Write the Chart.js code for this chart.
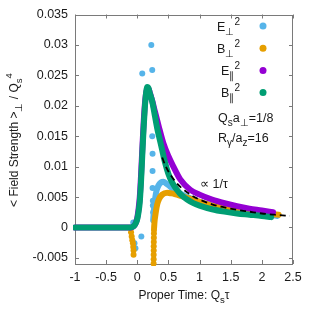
<!DOCTYPE html>
<html><head><meta charset="utf-8">
<script src="https://cdn.jsdelivr.net/npm/chart.js@4/dist/chart.umd.min.js"></script>
<style>html,body{margin:0;padding:0;background:#fff}#w{width:316px;height:316px;position:relative}</style>
</head><body><div id="w"><canvas id="c"></canvas></div>
<script>
// ---- tick definitions ----
const xTicks = [-1, -0.5, 0, 0.5, 1, 1.5, 2, 2.5];
const xTickLabels = ['-1', '-0.5', '0', '0.5', '1', '1.5', '2', '2.5'];
const yTicks = [-0.005, 0, 0.005, 0.01, 0.015, 0.02, 0.025, 0.03, 0.035];
const yTickLabels = ['-0.005', '0', '0.005', '0.01', '0.015', '0.02', '0.025', '0.03', '0.035'];

// ---- B_parallel^2 (green) ----
const tauBpar = [-1, -0.6, -0.2, -0.12, -0.08, -0.05, -0.02, 0.0, 0.02, 0.04, 0.06, 0.08, 0.10, 0.12, 0.14, 0.16, 0.18, 0.20, 0.24, 0.28, 0.32, 0.36, 0.40, 0.45, 0.50, 0.55, 0.60, 0.65, 0.70, 0.80, 0.90, 1.0, 1.2, 1.4, 1.6, 1.8, 2.0, 2.15];
const Bpar = [0, 0, 0, 0, 0.0001, 0.0003, 0.0008, 0.0014, 0.0025, 0.0042, 0.0075, 0.0118, 0.0160, 0.0195, 0.0220, 0.0231, 0.0229, 0.0221, 0.0207, 0.0185, 0.0163, 0.0145, 0.0127, 0.0105, 0.0088, 0.0076, 0.0067, 0.0060, 0.0054, 0.0046, 0.0040, 0.0036, 0.0030, 0.0026, 0.0023, 0.0021, 0.0019, 0.0017];

// ---- E_parallel^2 (purple) ----
const tauEpar = [-1, -0.2, -0.1, -0.06, -0.03, 0.0, 0.02, 0.04, 0.06, 0.08, 0.10, 0.12, 0.14, 0.16, 0.18, 0.20, 0.24, 0.28, 0.32, 0.36, 0.42, 0.50, 0.58, 0.69, 0.85, 1.0, 1.2, 1.4, 1.6, 1.8, 2.0, 2.18];
const Epar = [0, 0, 0, 0.0002, 0.0006, 0.0016, 0.0030, 0.0050, 0.0085, 0.0128, 0.0168, 0.0200, 0.0220, 0.0228, 0.0228, 0.0222, 0.0208, 0.0192, 0.0176, 0.0160, 0.0138, 0.0117, 0.0100, 0.0079, 0.0062, 0.0054, 0.0046, 0.0040, 0.0035, 0.0031, 0.0028, 0.0025];

// ---- E_perp^2 (blue): scattered early points and late curve ----
const tauEperpS = [-0.065, -0.045, -0.03, 0.065, 0.08, 0.225, 0.24, 0.24, 0.245, 0.245, 0.245, 0.25, 0.25, 0.255];
const EperpS = [0.0008, -0.0026, -0.0034, -0.0015, 0.0253, 0.0300, 0.0259, 0.0150, 0.0121, 0.0093, 0.0065, 0.0044, 0.0036, 0.0025];
const tauEperp = [0.255, 0.27, 0.29, 0.31, 0.34, 0.38, 0.42, 0.47, 0.52, 0.6, 0.7, 0.85, 1.0, 1.2, 1.4, 1.6, 1.8, 2.0, 2.25];
const Eperp = [0.0012, 0.0032, 0.0050, 0.0061, 0.0069, 0.0074, 0.0075, 0.0072, 0.0068, 0.0061, 0.0055, 0.0048, 0.0042, 0.0036, 0.0031, 0.0028, 0.0025, 0.0022, 0.0019];

// ---- B_perp^2 (orange): early dip points, steep column points and late curve ----
const tauBperpS = [-0.10, -0.09, -0.08, -0.07, -0.065, -0.06, -0.06];
const BperpS = [-0.0008, -0.0015, -0.0021, -0.0026, -0.0032, -0.0038, -0.0045];
const tauBperpC = [0.262, 0.262, 0.263, 0.263, 0.264, 0.264, 0.265, 0.266, 0.267, 0.268];
const BperpC = [-0.0066, -0.0059, -0.0052, -0.0045, -0.0038, -0.0031, -0.0024, -0.0017, -0.0010, -0.0004];
const tauBperp = [0.27, 0.274, 0.279, 0.29, 0.30, 0.32, 0.35, 0.40, 0.48, 0.55, 0.6, 0.7, 0.85, 1.0, 1.2, 1.4, 1.6, 1.8, 2.0, 2.27];
const Bperp = [0.0000, 0.0006, 0.0012, 0.0020, 0.0027, 0.0038, 0.0047, 0.0054, 0.0057, 0.0056, 0.0055, 0.0052, 0.0047, 0.0042, 0.0036, 0.0032, 0.0028, 0.0025, 0.0023, 0.0021];

// ---- 1/tau guide (dashed) ----
const tauFit = [0.40, 0.45, 0.5, 0.6, 0.7, 0.8, 0.9, 1.0, 1.2, 1.4, 1.6, 1.8, 2.0, 2.2, 2.45];
const fitVals = [0.0115, 0.0102, 0.0092, 0.0077, 0.0066, 0.0058, 0.0051, 0.0046, 0.0038, 0.0033, 0.0029, 0.0026, 0.0023, 0.0021, 0.0019];

const C_BLUE = '#56b4e9', C_ORANGE = '#e69f00', C_PURPLE = '#9400d3', C_GREEN = '#009e73';
const FONT = '"Liberation Sans", Arial, sans-serif';
const FS = 12.5, FSS = 10;

const pts = (xs, ys) => xs.map((v, i) => ({x: v, y: ys[i]}));

function curve(data, color, order) {
  return {data, showLine: true, borderColor: color, backgroundColor: color, borderWidth: 6,
    borderCapStyle: 'round', borderJoinStyle: 'round', pointRadius: 0, cubicInterpolationMode: 'monotone', order, clip: 2};
}
function dots(data, color, order) {
  return {data, showLine: false, borderColor: color, backgroundColor: color, borderWidth: 0,
    pointRadius: 3, order, clip: 2};
}

function richWidth(ctx, parts, fs, fss) {
  let w = 0;
  for (const p of parts) { ctx.font = ((p.sub || p.sup) ? fss : fs) + 'px ' + FONT; w += ctx.measureText(p.t).width; }
  return w;
}
function drawRich(ctx, parts, x, y, align, fs = FS, fss = FSS) {
  const w = richWidth(ctx, parts, fs, fss);
  let cx = align === 'right' ? x - w : align === 'center' ? x - w / 2 : x;
  ctx.textAlign = 'left'; ctx.textBaseline = 'alphabetic';
  for (const p of parts) {
    ctx.font = ((p.sub || p.sup) ? fss : fs) + 'px ' + FONT;
    const dy = p.sub ? 4 : p.sup ? -6 : 0;
    ctx.fillText(p.t, cx, y + dy);
    cx += ctx.measureText(p.t).width;
  }
}

const legendItems = [
  {parts: [{t: 'E'}, {t: '\u22A5', sub: 1}, {t: '2', sup: 1}], color: C_BLUE},
  {parts: [{t: 'B'}, {t: '\u22A5', sub: 1}, {t: '2', sup: 1}], color: C_ORANGE},
  {parts: [{t: 'E'}, {t: '\u2225', sub: 1}, {t: '2', sup: 1}], color: C_PURPLE},
  {parts: [{t: 'B'}, {t: '\u2225', sub: 1}, {t: '2', sup: 1}], color: C_GREEN},
];

const deco = {
  id: 'deco',
  beforeDatasetsDraw(chart) {
    const {ctx, chartArea: a, scales: {x, y}} = chart;
    ctx.save();
    ctx.strokeStyle = '#7a7a7a'; ctx.lineWidth = 1;
    ctx.strokeRect(Math.round(a.left) + 0.5, Math.round(a.top) + 0.5, Math.round(a.right - a.left) - 1, Math.round(a.bottom - a.top) - 1);
    ctx.beginPath();
    for (const t of x.ticks) {
      const px = Math.round(x.getPixelForValue(t.value)) + 0.5;
      ctx.moveTo(px, a.bottom); ctx.lineTo(px, a.bottom - 4);
      ctx.moveTo(px, a.top); ctx.lineTo(px, a.top + 4);
    }
    for (const t of y.ticks) {
      const py = Math.round(y.getPixelForValue(t.value)) + 0.5;
      ctx.moveTo(a.left, py); ctx.lineTo(a.left + 4, py);
      ctx.moveTo(a.right, py); ctx.lineTo(a.right - 4, py);
    }
    ctx.stroke();
    ctx.restore();
  },
  afterDraw(chart) {
    const {ctx, chartArea: a} = chart;
    ctx.save();
    legendItems.forEach((it, i) => {
      const cy = 26 + i * 22.2;
      ctx.fillStyle = '#1a1a1a';
      drawRich(ctx, it.parts, 240, cy + 4.5, 'right');
      ctx.fillStyle = it.color;
      ctx.beginPath(); ctx.arc(263, cy, 3.5, 0, Math.PI * 2); ctx.fill();
    });
    ctx.fillStyle = '#1a1a1a';
    drawRich(ctx, [{t: 'Q'}, {t: 's', sub: 1}, {t: 'a'}, {t: '\u22A5', sub: 1}, {t: '=1/8'}], 218, 121.5, 'left');
    drawRich(ctx, [{t: 'R'}, {t: '\u03B3', sub: 1}, {t: '/a'}, {t: 'z', sub: 1}, {t: '=16'}], 218, 142, 'left');
    drawRich(ctx, [{t: '\u221D 1/\u03C4'}], 200, 187.5, 'left');
    drawRich(ctx, [{t: 'Proper Time: Q'}, {t: 's', sub: 1}, {t: '\u03C4'}], (a.left + a.right) / 2, 299, 'center', 12, 9.6);
    ctx.translate(13, 140);
    ctx.rotate(-Math.PI / 2);
    drawRich(ctx, [{t: '< Field Strength >'}, {t: '\u22A5', sub: 1}, {t: ' / Q'}, {t: 's', sub: 1}, {t: '4', sup: 1}], 0, 4.5, 'center', 12, 9.6);
    ctx.restore();
  }
};

new Chart(document.getElementById('c'), {
  type: 'scatter',
  data: {
    datasets: [
      Object.assign(curve(pts(tauFit, fitVals), '#000', 0), {borderWidth: 1.8, borderDash: [6, 4], borderCapStyle: 'butt'}),
      curve(pts(tauBpar, Bpar), C_GREEN, 1),
      curve(pts(tauEpar, Epar), C_PURPLE, 2),
      curve(pts(tauBperp, Bperp), C_ORANGE, 3),
      dots(pts(tauBperpC, BperpC), C_ORANGE, 3),
      dots(pts(tauBperpS, BperpS), C_ORANGE, 3),
      curve(pts(tauEperp, Eperp), C_BLUE, 4),
      dots(pts(tauEperpS, EperpS), C_BLUE, 4),
    ]
  },
  options: {
    responsive: true, maintainAspectRatio: false, animation: false,
    devicePixelRatio: 1,
    layout: {padding: {top: 12, right: 23, left: 0, bottom: 0}},
    plugins: {legend: {display: false}, tooltip: {enabled: false}},
    scales: {
      x: {
        type: 'linear', min: -1, max: 2.5,
        afterBuildTicks: s => { s.ticks = xTicks.map(v => ({value: v})); },
        afterFit: s => { s.height = 52; },
        grid: {display: false, drawTicks: false}, border: {display: false},
        ticks: {autoSkip: false, maxRotation: 0, padding: 6, color: '#1a1a1a', font: {family: FONT, size: FS},
          callback: (v, i) => xTickLabels[i]}
      },
      y: {
        type: 'linear', min: -0.006, max: 0.035,
        afterBuildTicks: s => { s.ticks = yTicks.map(v => ({value: v})); },
        afterFit: s => { s.width = 75; },
        grid: {display: false, drawTicks: false}, border: {display: false},
        ticks: {autoSkip: false, padding: 7, color: '#1a1a1a', font: {family: FONT, size: FS},
          callback: (v, i) => yTickLabels[i]}
      }
    }
  },
  plugins: [deco]
});
</script></body></html>
